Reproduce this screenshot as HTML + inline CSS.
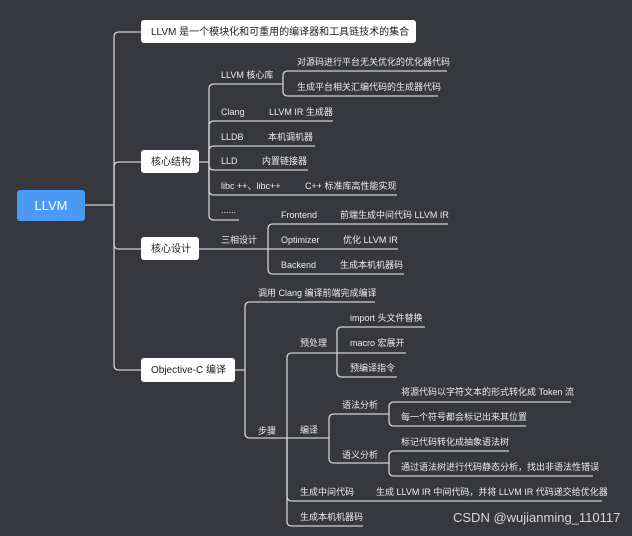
<!DOCTYPE html>
<html><head><meta charset="utf-8"><style>
html,body{margin:0;padding:0;background:#36383d;}
svg{display:block;}
text{font-family:"Liberation Sans","Noto Sans CJK SC",sans-serif;font-size:9px;fill:#ececec;}
.b{fill:#222;font-size:10px;}
</style></head><body>
<svg width="632" height="536" viewBox="0 0 632 536">
<rect width="632" height="536" fill="#36383d"/>
<g fill="none" stroke="#d0d0d0" stroke-width="1.3">
<!-- root trunk -->
<path d="M85 205 H114"/>
<path d="M114 205 V37 Q114 32 119 32 H141"/>
<path d="M114 205 V167 Q114 162 119 162 H141"/>
<path d="M114 205 V244 Q114 249 119 249 H141"/>
<path d="M114 205 V365 Q114 370 119 370 H141"/>
<!-- 核心结构 -->
<path d="M199 162 H209"/>
<path d="M209 162 V89 Q209 84 214 84 H283"/>
<path d="M209 162 V126 Q209 121 214 121 H333"/>
<path d="M209 162 V151 Q209 146 214 146 H315"/>
<path d="M209 162 V165 Q209 170 214 170 H308"/>
<path d="M209 162 V190 Q209 195 214 195 H397"/>
<path d="M209 162 V215 Q209 220 214 220 H239"/>
<path d="M283 84 V76 Q283 71 288 71 H447"/>
<path d="M283 84 V91 Q283 96 288 96 H438"/>
<!-- 核心设计 -->
<path d="M199 249 H268"/>
<path d="M268 249 V229 Q268 224 273 224 H448"/>
<path d="M268 249 H398"/>
<path d="M268 249 V269 Q268 274 273 274 H404"/>
<!-- Objective-C -->
<path d="M235 370 H245"/>
<path d="M245 370 V307 Q245 302 250 302 H375"/>
<path d="M245 370 V433 Q245 438 250 438 H287"/>
<path d="M287 438 V358 Q287 353 292 353 H337"/>
<path d="M287 438 H329"/>
<path d="M287 438 V496 Q287 501 292 501 H602"/>
<path d="M287 438 V521 Q287 526 292 526 H363"/>
<path d="M337 353 V332 Q337 327 342 327 H425"/>
<path d="M337 353 H406"/>
<path d="M337 353 V372 Q337 377 342 377 H397"/>
<path d="M329 438 V419 Q329 414 334 414 H389"/>
<path d="M329 438 V458 Q329 463 334 463 H389"/>
<path d="M389 414 V407 Q389 402 394 402 H571"/>
<path d="M389 414 V421 Q389 426 394 426 H526"/>
<path d="M389 463 V456 Q389 451 394 451 H509"/>
<path d="M389 463 V471 Q389 476 394 476 H593"/>
</g>
<!-- boxes -->
<rect x="17" y="190" width="68" height="31" rx="3" fill="#4a9af5"/>
<text x="51" y="210" text-anchor="middle" style="font-size:13px;fill:#fff">LLVM</text>
<rect x="141" y="20" width="275" height="23" rx="3" fill="#fff"/>
<text class="b" x="151" y="35">LLVM 是一个模块化和可重用的编译器和工具链技术的集合</text>
<rect x="141" y="150" width="58" height="23" rx="3" fill="#fff"/>
<text class="b" x="151" y="165">核心结构</text>
<rect x="141" y="237" width="58" height="23" rx="3" fill="#fff"/>
<text class="b" x="151" y="252">核心设计</text>
<rect x="141" y="358" width="94" height="24" rx="3" fill="#fff"/>
<text class="b" x="151" y="373">Objective-C 编译</text>
<!-- labels -->
<text x="221" y="78">LLVM 核心库</text>
<text x="297" y="65">对源码进行平台无关优化的优化器代码</text>
<text x="297" y="90">生成平台相关汇编代码的生成器代码</text>
<text x="221" y="115">Clang</text><text x="269" y="115">LLVM IR 生成器</text>
<text x="221" y="140">LLDB</text><text x="268" y="140">本机调机器</text>
<text x="221" y="164">LLD</text><text x="262" y="164">内置链接器</text>
<text x="221" y="189">libc ++、libc++</text><text x="305" y="189">C++ 标准库高性能实现</text>
<text x="221" y="213">......</text>
<text x="221" y="243">三相设计</text>
<text x="281" y="218">Frontend</text><text x="340" y="218">前端生成中间代码 LLVM IR</text>
<text x="281" y="243">Optimizer</text><text x="343" y="243">优化 LLVM IR</text>
<text x="281" y="268">Backend</text><text x="340" y="268">生成本机机器码</text>
<text x="258" y="296">调用 Clang 编译前端完成编译</text>
<text x="258" y="434">步骤</text>
<text x="300" y="346">预处理</text>
<text x="350" y="321">import 头文件替换</text>
<text x="350" y="346">macro 宏展开</text>
<text x="350" y="371">预编译指令</text>
<text x="300" y="433">编译</text>
<text x="342" y="408">语法分析</text>
<text x="401" y="395">将源代码以字符文本的形式转化成 Token 流</text>
<text x="401" y="420">每一个符号都会标记出来其位置</text>
<text x="342" y="458">语义分析</text>
<text x="401" y="445">标记代码转化成抽象语法树</text>
<text x="401" y="470">通过语法树进行代码静态分析，找出非语法性错误</text>
<text x="300" y="495">生成中间代码</text>
<text x="376" y="495">生成 LLVM IR 中间代码，并将 LLVM IR 代码递交给优化器</text>
<text x="300" y="520">生成本机机器码</text>
<text x="453" y="522" style="font-size:13px;fill:#d8d8d8">CSDN @wujianming_110117</text>
</svg>
</body></html>
